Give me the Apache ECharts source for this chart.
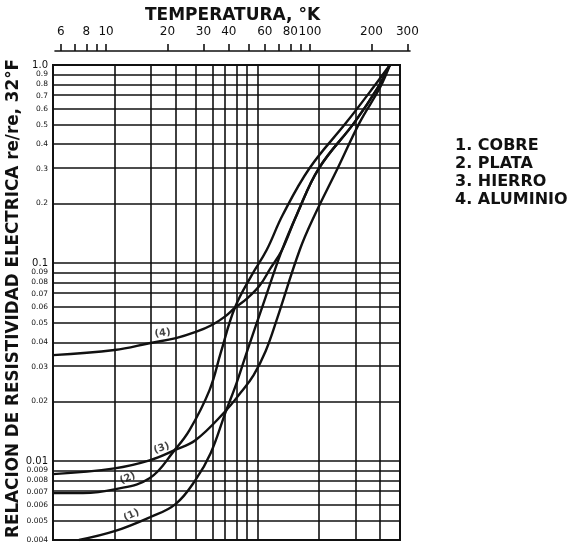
<!DOCTYPE html>
<html>
<head>
<meta charset="utf-8">
<script src="https://cdn.jsdelivr.net/npm/echarts@6/dist/echarts.min.js"></script>
<style>
html, body { margin: 0; background: #fff; }
#main { width: 571px; height: 544px; }
</style>
</head>
<body>
<div id="main"></div>
<script>
var myChart = echarts.init(document.getElementById('main'));

// curvas: temperatura (K) y relacion re/re
var cobreT = [6.7, 10, 14.9, 19.9, 24.9, 29.6, 35, 39.6, 44.8, 53.7, 66, 78, 100, 150, 194, 223];
var cobreR = [0.004, 0.00443, 0.00521, 0.00607, 0.00802, 0.011, 0.0177, 0.0248, 0.0364, 0.0628, 0.116, 0.175, 0.30, 0.515, 0.765, 1.0];

var plataT = [5, 7, 10, 14.85, 19.7, 23.3, 29.2, 33.2, 38.8, 47, 55.6, 66.6, 90.3, 137, 184, 223];
var plataR = [0.0069, 0.0069, 0.0072, 0.0082, 0.01137, 0.01434, 0.02285, 0.0355, 0.0593, 0.087, 0.1164, 0.1748, 0.302, 0.515, 0.765, 1.0];

var hierroT = [5, 10, 14.85, 19.7, 24.9, 34.6, 41.5, 48, 55, 62.2, 80.7, 95.6, 124, 159, 199, 223];
var hierroR = [0.0086, 0.0092, 0.0101, 0.01137, 0.01276, 0.0177, 0.0222, 0.0272, 0.0360, 0.0515, 0.1164, 0.1748, 0.302, 0.515, 0.765, 1.0];

var aluminioT = [5, 10, 15, 20, 25, 30, 35, 38.8, 44.8, 51.4, 58, 66, 78, 100, 150, 194, 223];
var aluminioR = [0.0343, 0.0364, 0.0395, 0.0418, 0.0449, 0.0487, 0.054, 0.0593, 0.0666, 0.0770, 0.094, 0.116, 0.175, 0.30, 0.515, 0.765, 1.0];

var nombres = ['1. COBRE', '2. PLATA', '3. HIERRO', '4. ALUMINIO'];

// escala superior de temperatura
var escalaTicks = [6, 7, 8, 9, 10, 20, 30, 40, 50, 60, 70, 80, 90, 100, 200, 300];
var escalaLabels = [6, 8, 10, 20, 30, 40, 60, 80, 100, 200, 300];

// reticula del papel
var gridT = [10, 15, 20, 25, 30, 35, 40, 45, 50, 100, 150, 200];
var gridR = [1.0, 0.9, 0.8, 0.7, 0.6, 0.5, 0.4, 0.3, 0.2, 0.1, 0.09, 0.08, 0.07, 0.06, 0.05, 0.04, 0.03, 0.02,
             0.01, 0.009, 0.008, 0.007, 0.006, 0.005, 0.004];
var gridRLabels = ['1.0', '0.9', '0.8', '0.7', '0.6', '0.5', '0.4', '0.3', '0.2', '0.1', '0.09', '0.08', '0.07', '0.06', '0.05', '0.04', '0.03', '0.02',
                   '0.01', '0.009', '0.008', '0.007', '0.006', '0.005', '0.004'];

// etiquetas (n) sobre las curvas: [T, r, texto, giro]
var etiquetas = [
	[12.1, 0.00534, '(1)', 25],
	[11.6, 0.0082, '(2)', 22],
	[17.0, 0.01163, '(3)', 18],
	[17.2, 0.0443, '(4)', 8]
];

function lg(v) { return Math.log10(v); }
function pares(t, r) { return t.map(function (v, i) { return [lg(v), lg(r[i])]; }); }

var FONT = 'DejaVu Sans';
var INK = '#111';

function curva(nombre, t, r) {
	return {
		name: nombre,
		type: 'line',
		xAxisIndex: 1,
		yAxisIndex: 1,
		data: pares(t, r),
		smooth: 0.4,
		showSymbol: false,
		lineStyle: { color: INK, width: 2.4 },
		itemStyle: { color: INK },
		z: 5
	};
}

var series = [
	curva(nombres[0], cobreT, cobreR),
	curva(nombres[1], plataT, plataR),
	curva(nombres[2], hierroT, hierroR),
	curva(nombres[3], aluminioT, aluminioR)
];

series[0].markLine = {
	silent: true,
	symbol: ['none', 'none'],
	label: { show: false },
	lineStyle: { color: INK, width: 1.6, type: 'solid' },
	data: gridT.map(function (v) { return { xAxis: lg(v) }; })
		.concat(gridR.map(function (v) { return { yAxis: lg(v) }; }))
};

series.push({
	type: 'scatter',
	xAxisIndex: 1,
	yAxisIndex: 1,
	symbolSize: 0,
	silent: true,
	z: 6,
	data: etiquetas.map(function (e) {
		return {
			value: [lg(e[0]), lg(e[1])],
			label: {
				show: true, position: 'inside', formatter: e[2], rotate: e[3],
				fontFamily: FONT, fontWeight: 'bold', fontSize: 10, color: INK
			}
		};
	})
});

myChart.setOption({
	backgroundColor: '#fff',
	animation: false,
	legend: {
		data: nombres,
		orient: 'vertical',
		left: 445,
		top: 133,
		icon: 'none',
		itemWidth: 0,
		itemGap: 2,
		selectedMode: false,
		textStyle: { fontFamily: FONT, fontSize: 16, fontWeight: 'bold', color: INK }
	},
	grid: [
		{ left: 55, top: 50, width: 355, height: 1, containLabel: false, outerBoundsMode: 'none' },
		{ left: 53, top: 65, width: 347, height: 475, containLabel: false, outerBoundsMode: 'none',
			show: true, borderColor: INK, borderWidth: 2 }
	],
	xAxis: [
		{
			gridIndex: 0,
			type: 'value',
			position: 'top',
			min: lg(5.62),
			max: lg(309),
			name: 'TEMPERATURA, °K',
			nameLocation: 'middle',
			nameGap: 26,
			nameMoveOverlap: false,
			nameTextStyle: { fontFamily: FONT, fontSize: 17, fontWeight: 'bold', color: INK },
			axisLine: { lineStyle: { color: INK, width: 1.6 } },
			axisTick: { show: true, length: 7, lineStyle: { color: INK, width: 1.6 },
				customValues: escalaTicks.map(lg) },
			axisLabel: {
				customValues: escalaLabels.map(lg),
				margin: 12,
				fontFamily: FONT, fontSize: 12, color: INK,
				formatter: function (v) { return String(Math.round(Math.pow(10, v))); }
			},
			splitLine: { show: false }
		},
		{
			gridIndex: 1,
			type: 'value',
			min: lg(5),
			max: lg(250),
			axisLine: { show: false },
			axisTick: { show: false },
			axisLabel: { show: false },
			splitLine: { show: false }
		}
	],
	yAxis: [
		{ gridIndex: 0, type: 'value', show: false },
		{
			gridIndex: 1,
			type: 'value',
			min: lg(0.004),
			max: 0,
			name: 'RELACION DE RESISTIVIDAD ELECTRICA re/re, 32°F',
			nameLocation: 'middle',
			nameRotate: 90,
			nameGap: 31,
			nameMoveOverlap: false,
			nameTextStyle: { fontFamily: FONT, fontSize: 16.8, fontWeight: 'bold', color: INK,
				padding: [0, 0, 0, 8] },
			axisLine: { show: false },
			axisTick: { show: false },
			axisLabel: {
				customValues: gridR.map(lg),
				margin: 5,
				fontFamily: FONT, fontSize: 7.5, color: INK,
				formatter: function (v) {
					for (var i = 0; i < gridR.length; i++) {
						if (Math.abs(lg(gridR[i]) - v) < 1e-6) {
							var s = gridRLabels[i];
							return (s === '1.0' || s === '0.1' || s === '0.01') ? '{b|' + s + '}' : s;
						}
					}
					return '';
				},
				rich: { b: { fontFamily: FONT, fontSize: 10, color: INK } }
			},
			splitLine: { show: false }
		}
	],
	series: series
});
</script>
</body>
</html>
